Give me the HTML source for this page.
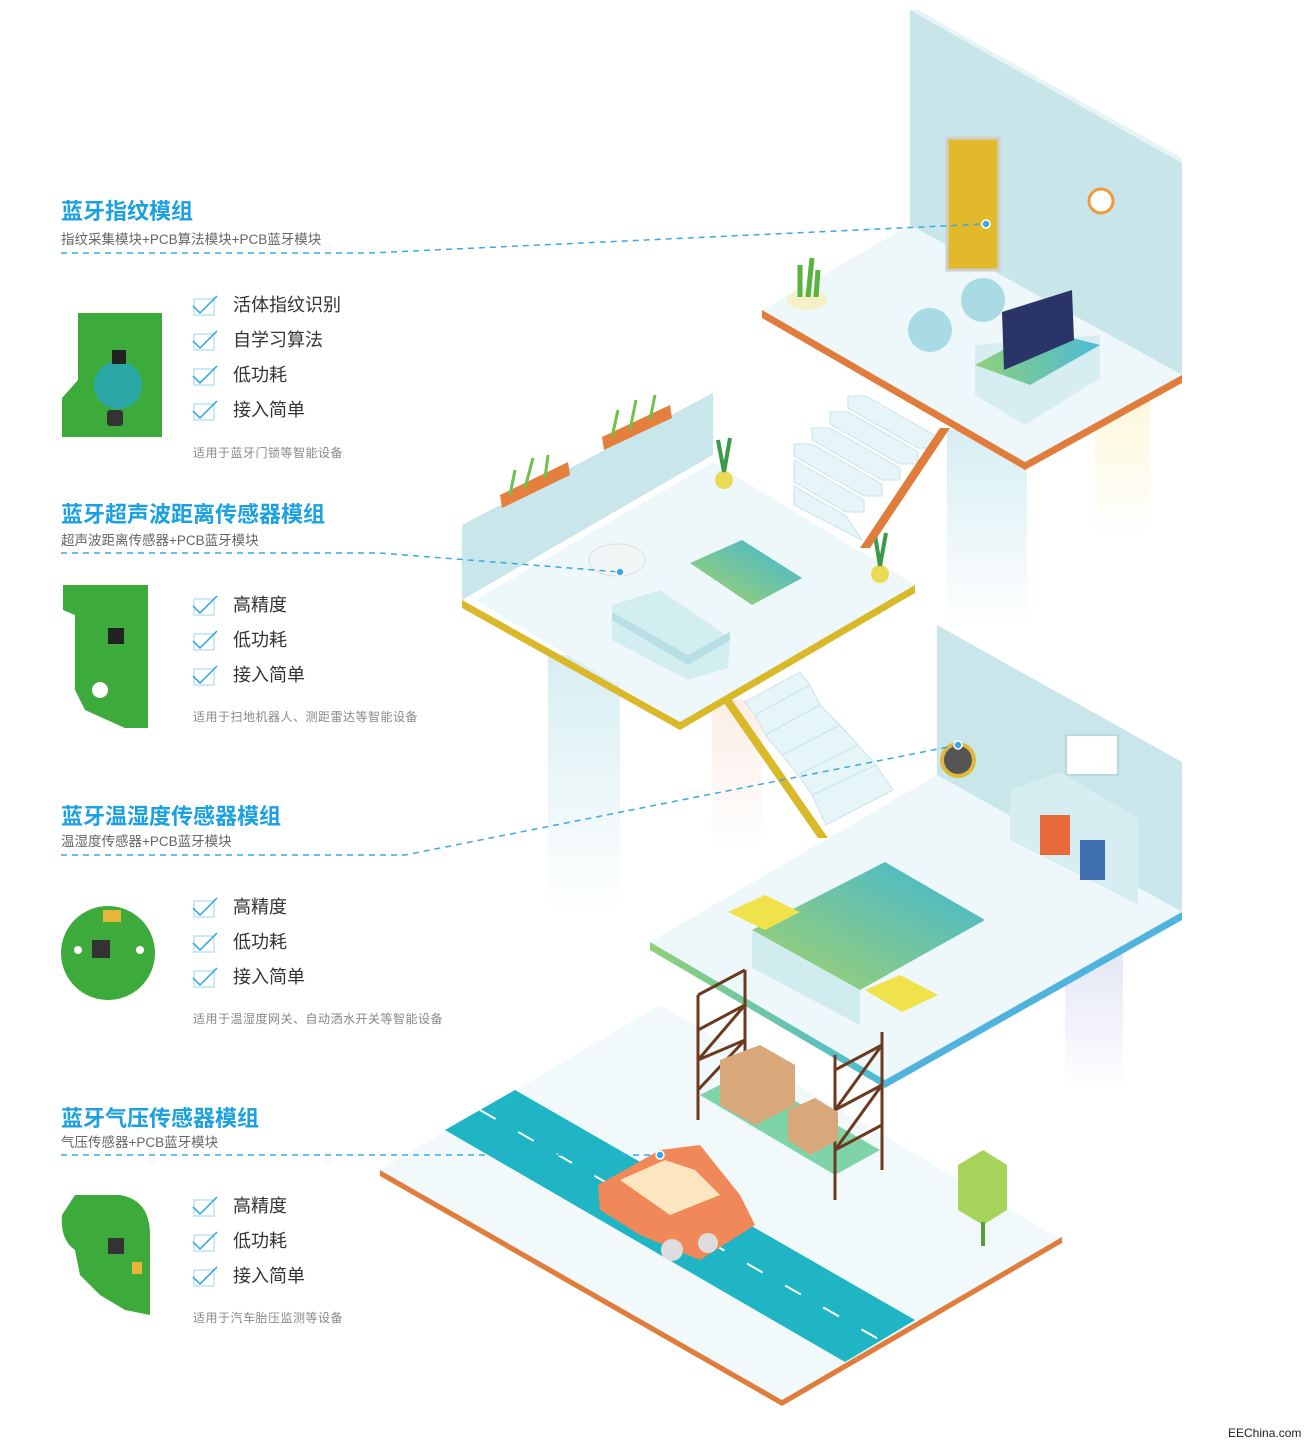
<!DOCTYPE html>
<html><head><meta charset="utf-8">
<style>
html,body{margin:0;padding:0;background:#fff;}
#c{position:relative;width:1310px;height:1447px;overflow:hidden;font-family:"Liberation Sans","Noto Sans CJK SC",sans-serif;}
.t{position:absolute;left:61px;color:#1ba0e2;font-size:22px;font-weight:bold;letter-spacing:0px;white-space:nowrap;}
.s{position:absolute;left:61px;color:#666;font-size:13.5px;white-space:nowrap;}
.i{position:absolute;left:193px;font-size:18px;color:#333;white-space:nowrap;height:24px;line-height:24px;}
.i span{position:absolute;left:40px;top:0;}
.n{position:absolute;left:193px;font-size:12px;color:#888;white-space:nowrap;letter-spacing:.5px;}
svg{position:absolute;left:0;top:0;}
</style></head><body><div id="c">
<svg width="1310" height="1447" viewBox="0 0 1310 1447">
<defs>
<linearGradient id="col" x1="0" y1="0" x2="0" y2="1"><stop offset="0" stop-color="#d7eef2"/><stop offset="1" stop-color="#fff"/></linearGradient>
<linearGradient id="colw" x1="0" y1="0" x2="0" y2="1"><stop offset="0" stop-color="#fbeee6"/><stop offset="1" stop-color="#fff"/></linearGradient>
<linearGradient id="coly" x1="0" y1="0" x2="0" y2="1"><stop offset="0" stop-color="#fdf8dc"/><stop offset="1" stop-color="#fff"/></linearGradient>
<linearGradient id="colp" x1="0" y1="0" x2="0" y2="1"><stop offset="0" stop-color="#e4e6f6"/><stop offset="1" stop-color="#fff"/></linearGradient>
<linearGradient id="gb" x1="0" y1="0" x2="1" y2="0"><stop offset="0" stop-color="#8fd07a"/><stop offset="1" stop-color="#4bbbd8"/></linearGradient>
<linearGradient id="bed" x1="0" y1="1" x2="1" y2="0"><stop offset="0" stop-color="#a4d26a"/><stop offset="1" stop-color="#3fb7d6"/></linearGradient>
</defs>
<rect x="947" y="430" width="80" height="200" fill="url(#col)"/>
<rect x="1095" y="400" width="55" height="140" fill="url(#coly)"/>
<rect x="548" y="655" width="72" height="260" fill="url(#col)"/>
<rect x="712" y="700" width="50" height="150" fill="url(#colw)"/>
<rect x="1065" y="950" width="58" height="140" fill="url(#colp)"/>
<polygon points="910,10 1182,163 1182,375 910,225" fill="#c8e6ea"/>
<polygon points="910,10 918,10 1182,158 1182,163" fill="#e6f4f6"/>
<polygon points="762,310 910,225 1182,375 1025,462" fill="#eef8fa"/>
<polygon points="762,310 1025,462 1025,470 762,318" fill="#e07d3d"/>
<polygon points="1025,462 1182,375 1182,383 1025,470" fill="#e07d3d"/>
<rect x="947" y="138" width="52" height="132" fill="#e2b92a"/>
<rect x="947" y="138" width="52" height="132" fill="none" stroke="#cfcfcf" stroke-width="3"/>
<circle cx="1101" cy="201" r="12" fill="#fff" stroke="#f09a3e" stroke-width="3"/>
<polygon points="975,345 1100,335 1100,378 1025,425 975,395" fill="#d6eef1"/>
<polygon points="975,365 1040,330 1100,345 1030,385" fill="url(#gb)"/>
<polygon points="1002,312 1072,290 1074,340 1004,370" fill="#2b3468"/>
<ellipse cx="930" cy="330" rx="22" ry="22" fill="#a8dbe3"/>
<ellipse cx="983" cy="300" rx="22" ry="22" fill="#a8dbe3"/>
<ellipse cx="807" cy="300" rx="20" ry="10" fill="#f4f0c8"/>
<path d="M800 297 L800 265 M808 297 L812 258 M816 297 L818 270" stroke="#5ab240" stroke-width="5"/>
<polygon points="462,525 713,393 713,455 462,600" fill="#c9e7ea"/>
<polygon points="475,600 713,462 915,585 680,722" fill="#eef8fa"/>
<polygon points="462,600 680,722 680,730 462,608" fill="#d9b82a"/>
<polygon points="680,722 915,585 915,593 680,730" fill="#d9b82a"/>
<polygon points="500,495 568,462 570,475 502,508" fill="#e57f3d"/>
<polygon points="602,437 670,405 672,418 604,450" fill="#e57f3d"/>
<path d="M510 495 L515 470 M525 488 L533 458 M545 478 L548 455 M612 437 L618 410 M630 430 L636 400 M650 420 L655 395" stroke="#6cc24a" stroke-width="3"/>
<polygon points="690,563 742,540 802,578 752,605" fill="url(#bed)"/>
<polygon points="612,605 660,590 730,638 728,668 688,680 612,640" fill="#d3eef1"/>
<polygon points="612,620 688,665 730,640 730,632 688,655 612,612" fill="#b7dfe5"/>
<ellipse cx="617" cy="560" rx="28" ry="16" fill="#f3f6f7" stroke="#ddd"/>
<circle cx="724" cy="480" r="9" fill="#e9dc52"/><circle cx="880" cy="574" r="9" fill="#e9dc52"/>
<path d="M724 472 L718 440 M724 472 L730 438 M880 566 L875 535 M880 566 L886 533" stroke="#3a9a4a" stroke-width="4"/>
<!-- stairs top -->
<g fill="#e6f5f7" stroke="#c9e4e9" stroke-width="1">
<polygon points="866,396 936,436 936,448 918,448 848,408 848,396"/>
<polygon points="848,412 918,452 918,464 900,464 830,424 830,412"/>
<polygon points="830,428 900,468 900,480 882,480 812,440 812,428"/>
<polygon points="812,444 882,484 882,496 864,496 794,456 794,444"/>
<polygon points="794,460 864,500 864,512 846,512 794,482"/>
<polygon points="794,486 846,516 862,540 794,505"/>
</g>
<polygon points="940,428 950,428 870,548 860,548" fill="#e07d3d"/>
<!-- stairs mid -->
<g fill="#e6f5f7" stroke="#c9e4e9" stroke-width="1">
<polygon points="745,702 800,672 810,685 755,715"/>
<polygon points="755,715 810,685 820,705 765,735"/>
<polygon points="765,735 820,705 840,725 782,755"/>
<polygon points="782,755 840,725 858,745 798,775"/>
<polygon points="798,775 858,745 876,765 812,795"/>
<polygon points="812,795 876,765 893,790 826,825"/>
</g>
<polygon points="722,700 732,700 828,838 818,838" fill="#d9b82a"/>
<polygon points="937,625 1182,762 1182,912 937,775" fill="#c9e7ea"/>
<polygon points="650,942 937,775 1182,912 885,1080" fill="#eef8fa"/>
<polygon points="650,942 885,1080 885,1088 650,950" fill="url(#gb)"/>
<polygon points="885,1080 1182,912 1182,920 885,1088" fill="#4fb3dd"/>
<rect x="1066" y="735" width="52" height="40" fill="#fff" stroke="#b9d9de" stroke-width="2"/>
<polygon points="1010,790 1060,772 1138,818 1138,905 1110,890 1010,840" fill="#d6eef1"/>
<rect x="1040" y="815" width="30" height="40" fill="#e86a3a"/><rect x="1080" y="840" width="25" height="40" fill="#3f6fb0"/>
<polygon points="752,930 885,862 985,920 860,990" fill="url(#bed)"/>
<polygon points="752,930 860,990 860,1025 752,968" fill="#d0ecef"/>
<polygon points="728,912 765,895 800,912 765,930" fill="#f0e24a"/>
<polygon points="865,990 900,975 938,995 902,1012" fill="#f0e24a"/>
<circle cx="958" cy="760" r="16" fill="#555" stroke="#e0b83a" stroke-width="4"/>
<polygon points="380,1170 660,1005 1062,1240 782,1405" fill="#f1f9fb"/>
<polygon points="380,1170 782,1400 782,1406 380,1176" fill="#e07d3d"/>
<polygon points="782,1400 1062,1237 1062,1243 782,1406" fill="#e07d3d"/>
<polygon points="445,1130 515,1090 915,1320 845,1362" fill="#1fb5c4"/>
<path d="M480 1110 L880 1340" stroke="#fff" stroke-width="2" stroke-dasharray="18 26"/>
<polygon points="700,1095 745,1072 880,1150 835,1175" fill="#7fd3a8"/>
<path d="M698 995 L698 1120 M745 970 L745 1095 M835 1055 L835 1200 M882 1032 L882 1170 M698 995 L745 970 M698 1030 L745 1005 L698 1060 L745 1040 L698 1090 M835 1070 L882 1045 L835 1110 L882 1085 L835 1150 L882 1125" stroke="#6b3a1f" stroke-width="3" fill="none"/>
<polygon points="720,1060 760,1045 795,1065 795,1105 755,1125 720,1105" fill="#d9a87a"/>
<polygon points="788,1110 815,1098 838,1112 838,1140 810,1155 788,1140" fill="#d9a87a"/>
<polygon points="598,1185 660,1150 700,1145 740,1195 755,1225 700,1260 640,1235 600,1210" fill="#f0885a"/>
<polygon points="620,1180 665,1160 695,1170 720,1195 670,1215" fill="#fbe6c0"/>
<circle cx="672" cy="1250" r="11" fill="#ddd"/><circle cx="708" cy="1243" r="10" fill="#ddd"/>
<polygon points="958,1165 983,1150 1007,1165 1007,1210 983,1225 958,1210" fill="#a6d45a"/>
<rect x="981" y="1222" width="4" height="24" fill="#5a9a3a"/>
<g stroke="#3aa9e3" stroke-width="1.5" stroke-dasharray="6 5" fill="none">
<path d="M61 253 L370 253 L985 224"/>
<path d="M61 553 L380 553 L620 572"/>
<path d="M61 855 L405 855 L958 745"/>
<path d="M61 1155 L660 1155"/>
</g>
<g fill="#3aa9e3" stroke="#fff" stroke-width="1.5"><circle cx="986" cy="224" r="4"/><circle cx="620" cy="572" r="4"/><circle cx="958" cy="745" r="4"/><circle cx="660" cy="1155" r="4"/></g>
<polygon points="78,313 162,313 162,437 62,437 62,398 78,380" fill="#3daa3c"/>
<circle cx="118" cy="385" r="24" fill="#28a8b8" opacity=".85"/>
<rect x="112" y="350" width="14" height="14" fill="#222"/>
<rect x="107" y="410" width="16" height="16" rx="3" fill="#333"/>
<polygon points="63,585 148,585 148,728 125,728 85,710 75,690 75,615 63,610" fill="#3daa3c"/>
<rect x="108" y="628" width="16" height="16" fill="#222"/><circle cx="100" cy="690" r="8" fill="#fff"/>
<circle cx="108" cy="953" r="47" fill="#3daa3c"/>
<rect x="92" y="940" width="18" height="18" fill="#333"/><rect x="103" y="910" width="18" height="12" fill="#e8b43a"/>
<circle cx="78" cy="950" r="4" fill="#fff"/><circle cx="140" cy="950" r="4" fill="#fff"/>
<path d="M75 1195 L120 1195 Q150 1200 150 1235 L150 1315 L125 1310 L100 1295 L80 1275 L75 1250 Q60 1240 62 1215 Z" fill="#3daa3c"/>
<rect x="108" y="1238" width="16" height="16" fill="#333"/><rect x="132" y="1262" width="10" height="12" fill="#e8b43a"/>
<g fill="none" stroke-width="1.5">
<g transform="translate(193,296)"><rect x="1" y="3" width="20" height="16" stroke="#bde3f5"/><path d="M0 10 L7 17 L24 0" stroke="#2aa3e0"/></g>
<g transform="translate(193,331)"><rect x="1" y="3" width="20" height="16" stroke="#bde3f5"/><path d="M0 10 L7 17 L24 0" stroke="#2aa3e0"/></g>
<g transform="translate(193,366)"><rect x="1" y="3" width="20" height="16" stroke="#bde3f5"/><path d="M0 10 L7 17 L24 0" stroke="#2aa3e0"/></g>
<g transform="translate(193,401)"><rect x="1" y="3" width="20" height="16" stroke="#bde3f5"/><path d="M0 10 L7 17 L24 0" stroke="#2aa3e0"/></g>
<g transform="translate(193,596)"><rect x="1" y="3" width="20" height="16" stroke="#bde3f5"/><path d="M0 10 L7 17 L24 0" stroke="#2aa3e0"/></g>
<g transform="translate(193,631)"><rect x="1" y="3" width="20" height="16" stroke="#bde3f5"/><path d="M0 10 L7 17 L24 0" stroke="#2aa3e0"/></g>
<g transform="translate(193,666)"><rect x="1" y="3" width="20" height="16" stroke="#bde3f5"/><path d="M0 10 L7 17 L24 0" stroke="#2aa3e0"/></g>
<g transform="translate(193,898)"><rect x="1" y="3" width="20" height="16" stroke="#bde3f5"/><path d="M0 10 L7 17 L24 0" stroke="#2aa3e0"/></g>
<g transform="translate(193,933)"><rect x="1" y="3" width="20" height="16" stroke="#bde3f5"/><path d="M0 10 L7 17 L24 0" stroke="#2aa3e0"/></g>
<g transform="translate(193,968)"><rect x="1" y="3" width="20" height="16" stroke="#bde3f5"/><path d="M0 10 L7 17 L24 0" stroke="#2aa3e0"/></g>
<g transform="translate(193,1197)"><rect x="1" y="3" width="20" height="16" stroke="#bde3f5"/><path d="M0 10 L7 17 L24 0" stroke="#2aa3e0"/></g>
<g transform="translate(193,1232)"><rect x="1" y="3" width="20" height="16" stroke="#bde3f5"/><path d="M0 10 L7 17 L24 0" stroke="#2aa3e0"/></g>
<g transform="translate(193,1267)"><rect x="1" y="3" width="20" height="16" stroke="#bde3f5"/><path d="M0 10 L7 17 L24 0" stroke="#2aa3e0"/></g>
</g>
</svg>

<div class="t" style="top:194px">蓝牙指纹模组</div>
<div class="s" style="top:228px">指纹采集模块+PCB算法模块+PCB蓝牙模块</div>
<div class="i" style="top:293px"><span>活体指纹识别</span></div>
<div class="i" style="top:328px"><span>自学习算法</span></div>
<div class="i" style="top:363px"><span>低功耗</span></div>
<div class="i" style="top:398px"><span>接入简单</span></div>
<div class="n" style="top:444px">适用于蓝牙门锁等智能设备</div>

<div class="t" style="top:497px">蓝牙超声波距离传感器模组</div>
<div class="s" style="top:529px">超声波距离传感器+PCB蓝牙模块</div>
<div class="i" style="top:593px"><span>高精度</span></div>
<div class="i" style="top:628px"><span>低功耗</span></div>
<div class="i" style="top:663px"><span>接入简单</span></div>
<div class="n" style="top:708px">适用于扫地机器人、测距雷达等智能设备</div>

<div class="t" style="top:799px">蓝牙温湿度传感器模组</div>
<div class="s" style="top:830px">温湿度传感器+PCB蓝牙模块</div>
<div class="i" style="top:895px"><span>高精度</span></div>
<div class="i" style="top:930px"><span>低功耗</span></div>
<div class="i" style="top:965px"><span>接入简单</span></div>
<div class="n" style="top:1010px">适用于温湿度网关、自动洒水开关等智能设备</div>

<div class="t" style="top:1101px">蓝牙气压传感器模组</div>
<div class="s" style="top:1131px">气压传感器+PCB蓝牙模块</div>
<div class="i" style="top:1194px"><span>高精度</span></div>
<div class="i" style="top:1229px"><span>低功耗</span></div>
<div class="i" style="top:1264px"><span>接入简单</span></div>
<div class="n" style="top:1309px">适用于汽车胎压监测等设备</div>

<div style="position:absolute;left:1228px;top:1426px;font-size:12px;color:#222;">EEChina.com</div>
</div></body></html>
